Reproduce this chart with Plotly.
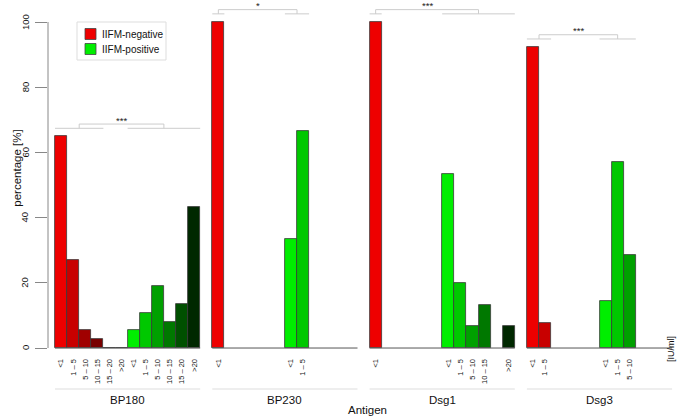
import plotly.graph_objects as go

# ---------------- data ----------------
categories = ["<1", "1 – 5", "5 – 10", "10 – 15", "15 – 20", ">20"]
antigens = ["BP180", "BP230", "Dsg1", "Dsg3"]

# percentage per titre class (None = class not present / not labelled)
neg_values = {
    "BP180": [64.9, 27.0, 5.4, 2.7, 0.0, 0.0],
    "BP230": [100.0, None, None, None, None, None],
    "Dsg1":  [100.0, None, None, None, None, None],
    "Dsg3":  [92.3, 7.7, None, None, None, None],
}
pos_values = {
    "BP180": [5.4, 10.8, 18.9, 8.1, 13.5, 43.2],
    "BP230": [33.3, 66.7, None, None, None, None],
    "Dsg1":  [53.3, 20.0, 6.7, 13.3, None, 6.7],
    "Dsg3":  [14.3, 57.1, 28.6, None, None, None],
}
significance = ["***", "*", "***", "***"]
y_ticks = [0, 20, 40, 60, 80, 100]

neg_colors = ["#EE0000", "#C80000", "#A00000", "#780000", "#500000", "#280000"]
pos_colors = ["#00EE00", "#00C800", "#00A000", "#007800", "#005000", "#002800"]

# ---------------- layout helpers ----------------
NCAT = len(categories)
GROUP_SLOTS = 2 * NCAT
STRIDE = GROUP_SLOTS + 1
W, H = 685, 418
ML, MR, MT, MB = 48, 5, 1, 69
PW = W - ML - MR
PH = H - MT - MB
PX_PER_UNIT = 12.1
X0 = -7 / PX_PER_UNIT
X1 = X0 + PW / PX_PER_UNIT
Y0, Y1 = -0.3, -0.3 + PH / 3.26


def ypaper(py):
    return 1 - (py - MT) / PH


fig = go.Figure()
tickvals, ticktext = [], []
shapes, annotations = [], []

neg_x, neg_y, neg_c = [], [], []
pos_x, pos_y, pos_c = [], [], []

for g, ag in enumerate(antigens):
    base = g * STRIDE
    for i, v in enumerate(neg_values[ag]):
        if v is None:
            continue
        xc = base + i + 0.5
        neg_x.append(xc); neg_y.append(v); neg_c.append(neg_colors[i])
        tickvals.append(xc); ticktext.append(categories[i])
    for i, v in enumerate(pos_values[ag]):
        if v is None:
            continue
        xc = base + NCAT + i + 0.5
        pos_x.append(xc); pos_y.append(v); pos_c.append(pos_colors[i])
        tickvals.append(xc); ticktext.append(categories[i])

bar_line = dict(color="#3a3a3a", width=0.8)
fig.add_trace(go.Bar(x=neg_x, y=neg_y, width=1, name="IIFM-negative",
                     marker=dict(color=neg_c, line=bar_line), showlegend=False))
fig.add_trace(go.Bar(x=pos_x, y=pos_y, width=1, name="IIFM-positive",
                     marker=dict(color=pos_c, line=bar_line), showlegend=False))

for g, ag in enumerate(antigens):
    base = g * STRIDE
    # baseline and group underline
    shapes.append(dict(type="line", xref="x", yref="y", x0=base, x1=base + GROUP_SLOTS,
                       y0=0, y1=0, line=dict(color="#555555", width=1)))
    shapes.append(dict(type="line", xref="x", yref="paper", x0=base, x1=base + GROUP_SLOTS,
                       y0=ypaper(389), y1=ypaper(389), line=dict(color="#dddddd", width=1)))
    annotations.append(dict(text=ag, xref="x", yref="paper", x=base + GROUP_SLOTS / 2,
                            y=ypaper(400), showarrow=False, yanchor="middle",
                            font=dict(size=11.5, color="#111111")))
    # significance bracket
    nv = [i for i, v in enumerate(neg_values[ag]) if v]
    pv = [i for i, v in enumerate(pos_values[ag]) if v]
    ns0, ns1 = base + min(nv), base + max(nv) + 1
    ps0, ps1 = base + NCAT + min(pv), base + NCAT + max(pv) + 1
    vmax = max([v for v in neg_values[ag] + pos_values[ag] if v is not None])
    yl, yt = vmax + 2.5, vmax + 3.8
    lc = dict(color="#cccccc", width=1)
    shapes.append(dict(type="line", xref="x", yref="y", x0=ns0, x1=ns1, y0=yl, y1=yl, line=lc))
    shapes.append(dict(type="line", xref="x", yref="y", x0=ps0, x1=ps1, y0=yl, y1=yl, line=lc))
    nm, pm = (ns0 + ns1) / 2, (ps0 + ps1) / 2
    shapes.append(dict(type="path", xref="x", yref="y",
                       path=f"M{nm},{yl} L{nm},{yt} L{pm},{yt} L{pm},{yl}", line=lc))
    annotations.append(dict(text=significance[g], xref="x", yref="y", x=(nm + pm) / 2, y=yt,
                            yanchor="bottom", yshift=-2.5, showarrow=False, borderpad=0,
                            font=dict(size=9.5, color="#222222")))

# y axis line (only from 0 to 100)
shapes.append(dict(type="line", xref="paper", yref="y", x0=0, x1=0, y0=0, y1=100,
                   line=dict(color="#888888", width=1)))

# y tick labels (rotated, placed like R's default)
for t in y_ticks:
    annotations.append(dict(text=str(t), xref="paper", yref="y", x=(25 - ML) / PW, y=t,
                            textangle=-90, showarrow=False, xanchor="center", yanchor="middle",
                            font=dict(size=9.5, color="#111111")))

# manual legend
lx0, ly0 = 77, 22
shapes.append(dict(type="rect", xref="paper", yref="paper",
                   x0=(lx0 - ML) / PW, x1=(166 - ML) / PW, y0=ypaper(60), y1=ypaper(ly0),
                   line=dict(color="#dddddd", width=1), fillcolor="white"))
for k, (lab, col) in enumerate([("IIFM-negative", neg_colors[0]), ("IIFM-positive", pos_colors[0])]):
    cy = 34 + k * 15
    shapes.append(dict(type="rect", xref="paper", yref="paper",
                       x0=(85 - ML) / PW, x1=(96 - ML) / PW, y0=ypaper(cy + 5.5), y1=ypaper(cy - 5.5),
                       line=dict(color="#444444", width=0.8), fillcolor=col))
    annotations.append(dict(text=lab, xref="paper", yref="paper", x=(99.5 - ML) / PW, y=ypaper(cy),
                            xanchor="left", yanchor="middle", showarrow=False,
                            font=dict(size=10, color="#111111")))

annotations.append(dict(text="percentage [%]", xref="paper", yref="y", x=(9 - ML) / PW, y=55,
                        textangle=-90, showarrow=False, font=dict(size=11.5, color="#111111")))
annotations.append(dict(text="Antigen", xref="paper", yref="paper", x=(367 - ML) / PW, y=ypaper(410),
                        yanchor="middle", showarrow=False, font=dict(size=11.5, color="#111111")))
annotations.append(dict(text="[IU/ml]", xref="paper", yref="paper", x=(678 - ML) / PW, y=ypaper(364),
                        textangle=-90, showarrow=False, font=dict(size=9, color="#111111")))

fig.update_layout(
    width=W, height=H,
    margin=dict(l=ML, r=MR, t=MT, b=MB, autoexpand=False),
    paper_bgcolor="white", plot_bgcolor="white",
    font=dict(family="Liberation Sans, Arial, sans-serif", color="#111111"),
    barmode="overlay", bargap=0,
    shapes=shapes, annotations=annotations,
    xaxis=dict(range=[X0, X1], tickvals=tickvals, ticktext=ticktext, tickangle=-90,
               tickfont=dict(size=7.5, color="#111111"), ticks="outside", ticklen=6,
               automargin=False, tickcolor="rgba(0,0,0,0)", showgrid=False,
               zeroline=False, showline=False),
    yaxis=dict(range=[Y0, Y1], tickvals=y_ticks, showticklabels=False,
               ticks="outside", ticklen=12,
               tickcolor="#888888", showgrid=False,
               zeroline=False, showline=False, automargin=False),
)

fig.write_html("out.html", config={"displayModeBar": False},
               post_script="document.body.style.margin='0';document.body.style.overflow='hidden';")
